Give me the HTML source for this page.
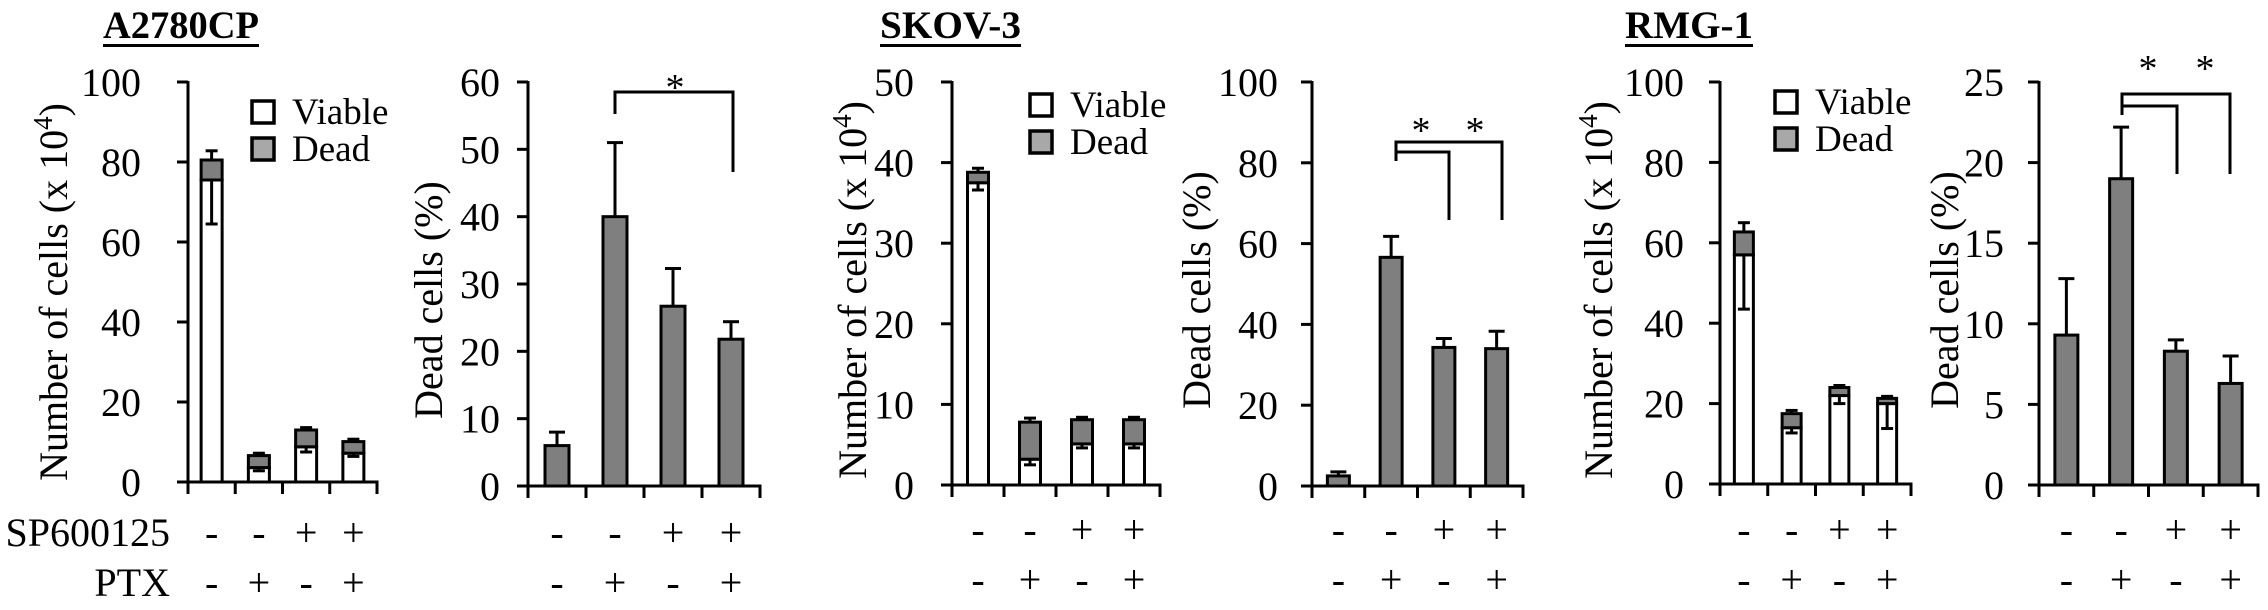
<!DOCTYPE html>
<html><head><meta charset="utf-8"><style>
html,body{margin:0;padding:0;background:#fff;}
svg, svg text{font-family:"Liberation Serif","Times New Roman",serif;}
</style></head><body>
<svg id="fig" width="2268" height="605" viewBox="0 0 2268 605" xmlns="http://www.w3.org/2000/svg" font-family="Liberation Serif, Times New Roman, serif"></svg>
<script>
// ---- Data ----
const categories = ["ctrl","PTX","SP","SP+PTX"];
const spRow = ["-","-","+","+"];
const ptxRow = ["-","+","-","+"];
// A2780CP cell counts (x10^4)
const a27Viable = [75.5, 3.6, 8.8, 7.2];
const a27ViableErr = [11, 0.8, 1.3, 0.8];
const a27Dead = [5, 3, 4.2, 2.9];
const a27DeadErr = [2.3, 0.6, 0.6, 0.6];
// A2780CP dead %
const a27Pct = [6, 40, 26.7, 21.8];
const a27PctErr = [2, 11, 5.6, 2.6];
// SKOV-3
const skViable = [37.5, 3.2, 5.1, 5.1];
const skViableErr = [0.9, 0.7, 0.5, 0.5];
const skDead = [1.3, 4.6, 3.0, 3.0];
const skDeadErr = [0.5, 0.5, 0.3, 0.3];
const skPct = [2.5, 56.6, 34.3, 34];
const skPctErr = [1, 5.2, 2.2, 4.3];
// RMG-1
const rmViable = [57, 14, 22, 20];
const rmViableErr = [13.5, 1.3, 2, 6.2];
const rmDead = [5.7, 3.5, 2, 1.3];
const rmDeadErr = [2.3, 0.8, 0.5, 0.5];
const rmPct = [9.3, 19, 8.3, 6.3];
const rmPctErr = [3.5, 3.2, 0.7, 1.7];
// tick labels
const ticks100 = [0,20,40,60,80,100];
const ticks60 = [0,10,20,30,40,50,60];
const ticks50 = [0,10,20,30,40,50];
const ticks25 = [0,5,10,15,20,25];

const NS = "http://www.w3.org/2000/svg";
const svg = document.getElementById('fig');
const GRAY = "#7f7f7f";
const FONT = "Liberation Serif, Times New Roman, serif";
const FS = 40;
function mk(tag, attrs, parent){
  const e = document.createElementNS(NS, tag);
  for (const k in attrs) e.setAttribute(k, attrs[k]);
  if (tag === 'text') e.setAttribute('font-family', FONT);
  (parent||svg).appendChild(e);
  return e;
}
function line(x1,y1,x2,y2,g){ return mk('line',{x1,y1,x2,y2,stroke:'#000','stroke-width':3},g); }

function axes(p, ticks, g){
  const ys = v => p.yBot - (v/p.max)*(p.yBot-p.yTop);
  const w = (p.x1-p.x0)/4;
  const xc = i => p.x0 + w*(i+0.5);
  let ya = line(p.x0,p.yTop-1,p.x0,p.yBot+1.5,g);
   
  let xa = line(p.x0-1.5,p.yBot,p.x1+1.5,p.yBot,g);
   
  ticks.forEach(t=>{
    const y = ys(t);
    line(p.x0-11,y,p.x0,y,g);
    const tx = mk('text',{x:p.labelX,y:y+14,'font-size':FS,'text-anchor':'end'},g);
    
    
    tx.textContent = t;
  });
  for (let i=0;i<=4;i++) line(p.x0+w*i,p.yBot,p.x0+w*i,p.yBot+12,g);
  for (let i=0;i<4;i++){
    const a = mk('text',{x:xc(i),y:p.row1,'font-size':FS,'text-anchor':'middle'},g);
    
    
    a.textContent = spRow[i];
    const b = mk('text',{x:xc(i),y:p.row2,'font-size':FS,'text-anchor':'middle'},g);
    
    
    b.textContent = ptxRow[i];
  }
  return {ys, xc};
}
function ytitle(x, y, sup, g){
  const t = mk('text',{x:0,y:0,'font-size':FS,'text-anchor':'middle',transform:`translate(${x},${y}) rotate(-90)`},g);
  
  
  if (sup){
    t.appendChild(document.createTextNode('Number of cells (x 10'));
    const s = mk('tspan',{dy:-15,'font-size':27},t); s.textContent='4';
    const s2 = mk('tspan',{dy:15},t); s2.textContent=')';
  } else t.textContent = 'Dead cells (%)';
}
function title(x,y,txt,w,g){
  const t = mk('text',{x,y,'font-size':39,'font-weight':'bold',textLength:w,lengthAdjust:'spacingAndGlyphs'},g);
  
  
  t.textContent = txt;
  mk('rect',{x,y:y+6,width:w,height:3,fill:'#000'},g);
}
function legend(x,y,g){
  const r1 = mk('rect',{x,y,width:22,height:22,fill:'#fff',stroke:'#000','stroke-width':3.5},g);
   
  const t1 = mk('text',{x:x+40,y:y+23,'font-size':37},g); t1.textContent='Viable';
   
  const r2 = mk('rect',{x,y:y+37,width:22,height:22,fill:'#a8a8a8',stroke:'#000','stroke-width':3.5},g);
   
  const t2 = mk('text',{x:x+40,y:y+60,'font-size':37},g); t2.textContent='Dead';
   
}
function stacked(p, ticks, viable, vErr, dead, dErr, g){
  const {ys, xc} = axes(p, ticks, g);
  for (let i=0;i<categories.length;i++){
    const cx = xc(i), bw = p.bw;
    const vTop = ys(viable[i]), tTop = ys(viable[i]+dead[i]);
    const rv = mk('rect',{x:cx-bw/2,y:vTop,width:bw,height:p.yBot-vTop,fill:'#fff',stroke:'#000','stroke-width':3},g);
     
    const rd = mk('rect',{x:cx-bw/2,y:tTop,width:bw,height:vTop-tTop,fill:GRAY,stroke:'#000','stroke-width':3},g);
     
    const ye = ys(viable[i]-vErr[i]);
    line(cx,vTop,cx,ye,g); line(cx-6,ye,cx+6,ye,g);
    const yd = ys(viable[i]+dead[i]+dErr[i]);
    line(cx,tTop,cx,yd,g); line(cx-6,yd,cx+6,yd,g);
  }
}
function pctBars(p, ticks, vals, errs, g){
  const {ys, xc} = axes(p, ticks, g);
  for (let i=0;i<categories.length;i++){
    const cx = xc(i), bw=p.bw, yt = ys(vals[i]);
    const ye = ys(vals[i]+errs[i]);
    line(cx,yt,cx,ye,g); line(cx-8,ye,cx+8,ye,g);
    const r = mk('rect',{x:cx-bw/2,y:yt,width:bw,height:p.yBot-yt,fill:GRAY,stroke:'#000','stroke-width':3},g);
     
  }
}
function star(x,y,g){
  const s = mk('text',{x,y,'font-size':38,'text-anchor':'middle'},g);
   
  s.textContent='*';
}
function poly(pts,g){
  const p = mk('polyline',{points:pts,fill:'none',stroke:'#000','stroke-width':3},g);
   
}

// ---- Panel 1 & 2: A2780CP ----
let g = mk('g',{});  
title(103,38,'A2780CP',156,g);
stacked({x0:188,x1:377,yTop:82,yBot:482,max:100,bw:21,labelX:141,row1:546,row2:596}, ticks100, a27Viable,a27ViableErr,a27Dead,a27DeadErr,g);
ytitle(67,292,true,g);
legend(252,101,g);
let lab = mk('text',{x:170,y:546,'font-size':FS,'text-anchor':'end'},g); lab.textContent='SP600125';
 
lab = mk('text',{x:170,y:596,'font-size':FS,'text-anchor':'end'},g); lab.textContent='PTX';
 
pctBars({x0:528,x1:760,yTop:82,yBot:486,max:60,bw:24,labelX:500,row1:546,row2:596}, ticks60, a27Pct,a27PctErr,g);
ytitle(442,300,false,g);
poly("615,114 615,92 733,92 733,172",g);
star(675,100,g);

// ---- Panel 3 & 4: SKOV-3 ----
g = mk('g',{});  
title(880,38,'SKOV-3',141,g);
stacked({x0:952,x1:1160,yTop:82,yBot:485,max:50,bw:21,labelX:914,row1:543,row2:593}, ticks50, skViable,skViableErr,skDead,skDeadErr,g);
ytitle(866,290,true,g);
legend(1030,94,g);
pctBars({x0:1312,x1:1523,yTop:82,yBot:486,max:100,bw:22,labelX:1278,row1:543,row2:593}, ticks100, skPct,skPctErr,g);
ytitle(1210,290,false,g);
poly("1396,161 1396,142 1502,142 1502,220",g);
poly("1396,152 1449,152 1449,220",g);
star(1421,143,g); star(1475,143,g);

// ---- Panel 5 & 6: RMG-1 ----
g = mk('g',{});  
title(1625,38,'RMG-1',128,g);
stacked({x0:1720,x1:1911,yTop:82,yBot:484,max:100,bw:19,labelX:1684,row1:543,row2:593}, ticks100, rmViable,rmViableErr,rmDead,rmDeadErr,g);
ytitle(1612,290,true,g);
legend(1775,91,g);
pctBars({x0:2039,x1:2258,yTop:82,yBot:485,max:25,bw:23,labelX:2004,row1:543,row2:593}, ticks25, rmPct,rmPctErr,g);
ytitle(1958,290,false,g);
poly("2122,115 2122,94 2230,94 2230,174",g);
poly("2122,106 2177,106 2177,174",g);
star(2148,81,g); star(2205,81,g);
</script>
</body></html>
